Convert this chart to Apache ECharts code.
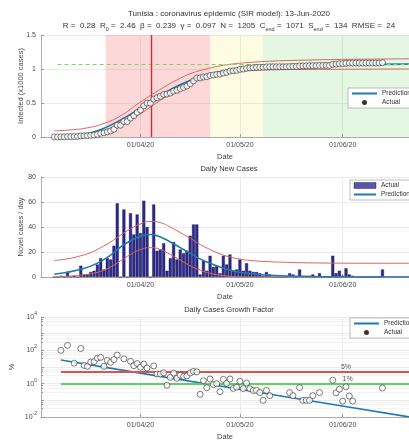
<!DOCTYPE html>
<html>
<head>
<meta charset="utf-8">
<script src="https://cdn.jsdelivr.net/npm/echarts@6/dist/echarts.min.js"></script>
<style>
  html, body { margin: 0; padding: 0; background: #fff; }
  #chart { width: 409px; height: 443px; }
</style>
</head>
<body>
<div id="chart"></div>
<script>
// Day numbers count from 1 March 2020 (day 0).
const firstObsDay = 5;
const tickDays = [31, 61, 92];
const tickLabels = ['01/04/20', '01/05/20', '01/06/20'];

// Daily confirmed cases, one entry per day from firstObsDay.
const newCases = [
  0, 0, 1, 0, 4, 0, 1, 0, 9, 2,
  2, 4, 5, 10, 15, 6, 15, 14, 25, 59,
  0, 54, 0, 51, 34, 50, 35, 61, 40, 0,
  58, 21, 22, 27, 5, 15, 28, 14, 22, 19,
  21, 33, 42, 42, 2, 13, 5, 17, 8, 9,
  3, 17, 10, 18, 5, 6, 14, 5, 11, 5,
  4, 4, 3, 1, 4, 2, 0, 0, 0, 0,
  0, 3, 2, 0, 6, 1, 1, 1, 2, 0,
  3, 0, 0, 0, 17, 3, 5, 1, 7, 2,
  1, 0, 0, 0, 0, 0, 0, 0, 0, 6
];

// Cumulative confirmed cases.
const cumCases = [
  1, 1, 2, 2, 6, 6, 7, 7, 16, 18,
  20, 24, 29, 39, 54, 60, 75, 89, 114, 173,
  173, 227, 227, 278, 312, 362, 397, 458, 498, 498,
  556, 577, 599, 626, 631, 646, 674, 688, 710, 729,
  750, 783, 825, 867, 869, 882, 887, 904, 912, 921,
  924, 941, 951, 969, 974, 980, 994, 999, 1010, 1015,
  1019, 1023, 1026, 1027, 1031, 1033, 1033, 1033, 1033, 1033,
  1033, 1036, 1038, 1038, 1044, 1045, 1046, 1047, 1049, 1049,
  1052, 1052, 1052, 1052, 1069, 1072, 1077, 1078, 1085, 1087,
  1088, 1088, 1088, 1088, 1088, 1088, 1088, 1088, 1088, 1094
];

// Daily growth factor in percent (null where no new case was reported).
const growthPct = [
  null, null, 100, null, 200, null, 17, null, 129, 12.5,
  11, 20, 21, 34, 38, 11, 25, 19, 28, 52,
  null, 31, null, 22, 12, 16, 9.7, 15, 8.7, null,
  11.6, 3.8, 3.8, 4.5, 0.8, 2.4, 4.3, 2.1, 3.2, 2.7,
  2.9, 4.4, 5.4, 5.1, 0.23, 1.5, 0.57, 1.9, 0.88, 0.99,
  0.33, 1.8, 1.06, 1.9, 0.52, 0.62, 1.4, 0.5, 1.1, 0.5,
  0.39, 0.39, 0.29, 0.1, 0.39, 0.19, null, null, null, null,
  null, 0.29, 0.19, null, 0.58, 0.1, 0.1, 0.1, 0.19, null,
  0.29, null, null, null, 1.6, 0.28, 0.47, 0.09, 0.65, 0.18,
  0.09, null, null, null, null, null, null, null, null, 0.55
];

// SIR model fit: cumulative infected (x1000) with bounds.
const fitCumDays  = [5, 10, 15, 20, 25, 30, 34, 38, 42, 46, 50, 55, 60, 65, 70, 80, 90, 100, 112];
const fitCum      = [0.0, 0.02, 0.05, 0.13, 0.25, 0.395, 0.52, 0.64, 0.745, 0.83, 0.90, 0.96, 1.0, 1.025, 1.04, 1.055, 1.064, 1.068, 1.071];
const fitCumUpper = [0.09, 0.105, 0.135, 0.2, 0.31, 0.48, 0.61, 0.73, 0.84, 0.93, 0.99, 1.045, 1.08, 1.10, 1.115, 1.13, 1.14, 1.145, 1.15];
const fitCumLower = [0.0, 0.0, 0.015, 0.09, 0.18, 0.31, 0.44, 0.57, 0.69, 0.80, 0.87, 0.93, 0.965, 0.98, 0.988, 0.993, 0.996, 0.998, 1.0];

// SIR model fit: daily new cases with bounds.
const fitNewDays  = [5, 7, 10, 13, 16, 19, 22, 25, 28, 31, 34, 37, 40, 43, 46, 49, 52, 55, 58, 61, 65, 70, 75, 80, 90, 100, 112];
const fitNew      = [2.2, 3, 4.3, 6.2, 8.7, 12.5, 17.5, 24, 29, 32.5, 34, 32, 28, 23.5, 19, 14.5, 11, 8, 5.5, 3.8, 2.5, 1.4, 0.8, 0.4, 0.1, 0.03, 0];
const fitNewUpper = [13, 13.8, 15, 17, 19.5, 23.5, 28, 33.5, 38.5, 42.5, 44.5, 43.5, 40, 35.5, 31, 26, 22, 18.5, 16, 14.3, 13, 12.2, 11.7, 11.4, 11.1, 11, 11];
const fitNewLower = [0, 0.3, 0.8, 1.5, 2.6, 4.5, 8, 13, 18, 22, 23.5, 22, 18, 13.5, 9, 5.5, 3, 1.5, 0.6, 0.2, 0, 0, 0, 0, 0, 0, 0];

// Growth factor trend (percent).
const fitGrowthDays = [7, 30, 60, 90, 112];
const fitGrowth     = [26, 4.6, 0.49, 0.053, 0.0102];

// Model constants and phases.
const cEnd = 1071;
const peakDay = 34.4;
const phases = [
  { from: 20.5, to: 52, color: 'rgba(240,60,60,0.2)' },
  { from: 52, to: 68, color: 'rgba(245,238,80,0.16)' },
  { from: 68, to: 112, color: 'rgba(70,200,70,0.15)' }
];
const thresholds = [
  { value: 5, label: '5%', color: '#d9534f', labelDay: 93 },
  { value: 1, label: '1%', color: '#5ed35e', labelDay: 93.5 }
];

const obsDays = newCases.map((_, i) => firstObsDay + i);
const pairs = (xs, ys, k) => xs.map((x, i) => [x, ys[i] == null ? null : ys[i] * (k || 1)]).filter(p => p[1] != null);

const FONT = 'Liberation Sans, Arial, Helvetica, sans-serif';
const BLUE = '#1f7ab0';
const RED = '#d9645e';
const AXIS_C = '#9a9a9a';
const GRID_C = '#e6e6e6';
const TXT = '#4a4a4a';

const GRID_LEFT = 41, GRID_W = 375;
const grids = [
  { left: GRID_LEFT, width: GRID_W, top: 35, height: 102 },
  { left: GRID_LEFT, width: GRID_W, top: 177, height: 100 },
  { left: GRID_LEFT, width: GRID_W, top: 317, height: 100 }
];

function dateAxis(i) {
  return {
    type: 'value', gridIndex: i, min: 1, max: 112,
    name: 'Date', nameLocation: 'middle', nameGap: 15.5, nameMoveOverlap: false,
    nameTextStyle: { fontFamily: FONT, fontSize: 7.5, color: TXT },
    axisLine: { show: true, lineStyle: { color: AXIS_C, width: 0.8 } },
    axisTick: { show: true, inside: true, length: 3, customValues: tickDays, lineStyle: { color: AXIS_C } },
    axisLabel: {
      customValues: tickDays, margin: 5,
      fontFamily: FONT, fontSize: 7, color: TXT,
      formatter: v => tickLabels[tickDays.indexOf(Math.round(v))] || ''
    },
    splitLine: { show: true, lineStyle: { color: GRID_C, width: 0.8 } }
  };
}

function valueAxis(i, opts) {
  return Object.assign({
    type: 'value', gridIndex: i,
    nameLocation: 'middle', nameRotate: 90, nameMoveOverlap: false,
    nameTextStyle: { fontFamily: FONT, fontSize: 7.5, color: TXT },
    axisLine: { show: true, lineStyle: { color: AXIS_C, width: 0.8 } },
    axisTick: { show: true, inside: true, length: 3, lineStyle: { color: AXIS_C } },
    axisLabel: { fontFamily: FONT, fontSize: 7, color: TXT, margin: 5 },
    splitLine: { show: true, lineStyle: { color: GRID_C, width: 0.8 } }
  }, opts);
}

// Legend entry for a fitted curve: line only, no marker.
const lineEntry = { name: 'Prediction', itemStyle: { opacity: 0 } };
const dotEntry = { name: 'Actual', icon: 'circle', itemStyle: { color: '#000', borderWidth: 0 } };

const legendBase = {
  orient: 'vertical', padding: [2, 3], itemGap: 2,
  backgroundColor: '#fff', borderColor: '#a0a0a0', borderWidth: 0.7,
  textStyle: { fontFamily: FONT, fontSize: 6.5, color: '#333' }
};

const option = {
  animation: false,
  backgroundColor: '#fff',
  textStyle: { fontFamily: FONT },
  title: [
    {
      text: 'Tunisia : coronavirus epidemic (SIR model): 13-Jun-2020',
      left: 229, top: 10, textAlign: 'center', padding: 0,
      textStyle: { fontFamily: FONT, fontSize: 8, fontWeight: 'normal', color: '#333' }
    },
    {
      text: 'R =  0.28  R{sub|0} =  2.46  \u03b2 =  0.239  \u03b3 =  0.097  N =  1205  C{sub|end} =  1071  S{sub|end} =  134  RMSE =  24',
      left: 229, top: 20, textAlign: 'center', padding: 0,
      textStyle: {
        fontFamily: FONT, fontSize: 8, fontWeight: 'normal', color: '#333', lineHeight: 12,
        rich: { sub: { fontFamily: FONT, fontSize: 5.5, color: '#333', lineHeight: 6, verticalAlign: 'bottom' } }
      }
    },
    {
      text: 'Daily New Cases', left: 229, top: 165, textAlign: 'center', padding: 0,
      textStyle: { fontFamily: FONT, fontSize: 7.5, fontWeight: 'normal', color: '#333' }
    },
    {
      text: 'Daily Cases Growth Factor', left: 229, top: 306, textAlign: 'center', padding: 0,
      textStyle: { fontFamily: FONT, fontSize: 7.5, fontWeight: 'normal', color: '#333' }
    }
  ],
  legend: [
    Object.assign({}, legendBase, {
      left: 348, top: 88, itemWidth: 25, itemHeight: 5,
      data: [lineEntry, dotEntry]
    }),
    Object.assign({}, legendBase, {
      left: 350, top: 180, itemWidth: 22, itemHeight: 6,
      data: [
        { name: 'Actual', icon: 'rect', itemStyle: { color: '#2e2a8c', borderColor: '#15154f', borderWidth: 0.5 } },
        lineEntry
      ]
    }),
    Object.assign({}, legendBase, {
      left: 350, top: 318, itemWidth: 25, itemHeight: 5,
      data: [lineEntry, dotEntry]
    })
  ],
  grid: grids,
  xAxis: [dateAxis(0), dateAxis(1), dateAxis(2)],
  yAxis: [
    valueAxis(0, {
      min: 0, max: 1.5, interval: 0.5, name: 'Infected (x1000 cases)', nameGap: 16
    }),
    valueAxis(1, {
      min: 0, max: 80, interval: 20, name: 'Novel cases / day', nameGap: 16
    }),
    valueAxis(2, {
      type: 'log', logBase: 10, min: 0.01, max: 10000, name: '%', nameGap: 25,
      axisLabel: {
        fontFamily: FONT, fontSize: 7, color: TXT, margin: 4,
        formatter: v => {
          const e = Math.round(Math.log10(v));
          if (e % 2 !== 0) return '';
          return '{b|10}{s|' + e + '}';
        },
        rich: {
          b: { fontFamily: FONT, fontSize: 7, color: TXT, lineHeight: 12 },
          s: { fontFamily: FONT, fontSize: 5, color: TXT, lineHeight: 7, verticalAlign: 'top' }
        }
      },
      minorTick: { show: true, splitNumber: 4, length: 2, lineStyle: { color: AXIS_C } },
      minorSplitLine: { show: true, lineStyle: { color: '#f0f0f0', width: 0.8 } }
    })
  ],
  series: [
    // ---- cumulative panel ----
    {
      type: 'line', name: 'phases', xAxisIndex: 0, yAxisIndex: 0, data: [], z: 1,
      silent: true,
      markArea: {
        silent: true,
        data: phases.map(p => [{ xAxis: p.from, itemStyle: { color: p.color } }, { xAxis: p.to }])
      }
    },
    {
      type: 'line', name: 'C_end', xAxisIndex: 0, yAxisIndex: 0, data: [], z: 2,
      markLine: {
        silent: true, symbol: 'none', label: { show: false },
        lineStyle: { color: '#7fd36a', type: [4, 3], width: 1 },
        data: [[{ coord: [6, cEnd / 1000] }, { coord: [112, cEnd / 1000] }]]
      }
    },
    {
      type: 'line', name: 'upperCum', xAxisIndex: 0, yAxisIndex: 0, smooth: true, symbol: 'none', z: 3,
      lineStyle: { color: RED, width: 1 },
      data: pairs(fitCumDays, fitCumUpper)
    },
    {
      type: 'line', name: 'lowerCum', xAxisIndex: 0, yAxisIndex: 0, smooth: true, symbol: 'none', z: 3,
      lineStyle: { color: RED, width: 1 },
      data: pairs(fitCumDays, fitCumLower)
    },
    {
      type: 'line', name: 'Prediction', xAxisIndex: 0, yAxisIndex: 0, smooth: true, symbol: 'none', z: 4,
      color: BLUE, lineStyle: { color: BLUE, width: 1.6 },
      data: pairs(fitCumDays, fitCum)
    },
    {
      type: 'scatter', name: 'Actual', xAxisIndex: 0, yAxisIndex: 0, z: 5,
      symbol: 'circle', symbolSize: 6,
      itemStyle: { color: '#fff', borderColor: '#1a1a1a', borderWidth: 0.7 },
      data: pairs(obsDays, cumCases, 0.001),
      markLine: {
        silent: true, symbol: 'none', label: { show: false },
        lineStyle: { color: '#cf2f2f', type: 'solid', width: 1.4 },
        data: [{ xAxis: peakDay }]
      }
    },
    // ---- daily new cases panel ----
    {
      type: 'bar', name: 'Actual', xAxisIndex: 1, yAxisIndex: 1, barWidth: 3, z: 2,
      itemStyle: { color: '#2e2a8c', borderColor: '#15154f', borderWidth: 0.4 },
      data: pairs(obsDays, newCases)
    },
    {
      type: 'line', name: 'upperNew', xAxisIndex: 1, yAxisIndex: 1, smooth: true, symbol: 'none', z: 3,
      lineStyle: { color: RED, width: 1 },
      data: pairs(fitNewDays, fitNewUpper)
    },
    {
      type: 'line', name: 'lowerNew', xAxisIndex: 1, yAxisIndex: 1, smooth: true, symbol: 'none', z: 3,
      lineStyle: { color: RED, width: 1 },
      data: pairs(fitNewDays, fitNewLower)
    },
    {
      type: 'line', name: 'Prediction', xAxisIndex: 1, yAxisIndex: 1, smooth: true, symbol: 'none', z: 4,
      color: BLUE, lineStyle: { color: BLUE, width: 1.6 },
      data: pairs(fitNewDays, fitNew)
    },
    // ---- growth factor panel ----
    {
      type: 'line', name: 'thresholds', xAxisIndex: 2, yAxisIndex: 2, data: [], z: 2,
      markLine: {
        silent: true, symbol: 'none', label: { show: false },
        data: thresholds.map(t => [
          { coord: [7, t.value], lineStyle: { color: t.color, width: 2, type: 'solid' } },
          { coord: [112, t.value] }
        ])
      },
      markPoint: {
        silent: true, symbol: 'circle', symbolSize: 0,
        label: { show: true, position: 'top', distance: 1, fontFamily: FONT, fontSize: 7, color: '#555' },
        data: thresholds.map(t => ({ coord: [t.labelDay, t.value], value: t.label, label: { formatter: t.label } }))
      }
    },
    {
      type: 'line', name: 'Prediction', xAxisIndex: 2, yAxisIndex: 2, symbol: 'none', z: 4,
      color: BLUE, lineStyle: { color: BLUE, width: 1.6 },
      data: pairs(fitGrowthDays, fitGrowth)
    },
    {
      type: 'scatter', name: 'Actual', xAxisIndex: 2, yAxisIndex: 2, z: 5,
      symbol: 'circle', symbolSize: 6,
      itemStyle: { color: '#fff', borderColor: '#1a1a1a', borderWidth: 0.7 },
      data: pairs(obsDays, growthPct)
    }
  ]
};

const chart = echarts.init(document.getElementById('chart'), null, { renderer: 'canvas' });
chart.setOption(option);
</script>
</body>
</html>
